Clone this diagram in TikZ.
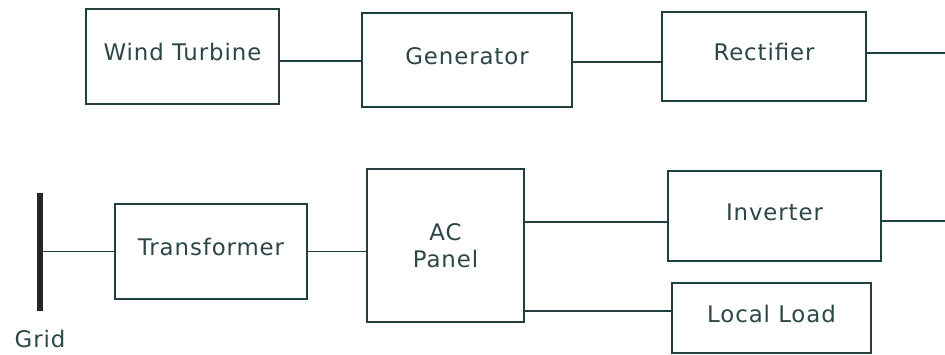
\documentclass[tikz,border=0pt]{standalone}
\usepackage{fontspec}
\setmainfont[LetterSpace=4]{DejaVu Sans}
\usetikzlibrary{%
	calc,%
	positioning,%
}
\definecolor{cline}{RGB}{34, 64, 64}
\definecolor{ctext}{RGB}{45, 70, 70}
\tikzset{
	nodes={align=center},%
	blk/.style={%
			draw=cline,%
			rectangle,%
			line width=1pt,%
			text=ctext,%
			fill=white},%
	lift/.style={%
			text depth=0.26cm},%
	wire/.style={%
			draw=cline,%
			line width=1pt},%
	busbar/.style={%
			fill=black!85,%
			rectangle,%
			inner sep=0,%
			minimum width=0.18cm,%
			minimum height=3.54cm},%
}

\begin{document}
\begin{tikzpicture}[x=0.03cm, y=-0.03cm, nodes={font={\fontsize{19.5}{23}\selectfont}}]%
	\useasboundingbox (0,0) rectangle (945,354);

	% top row
	\node[blk, lift, minimum width=5.79cm, minimum height=2.85cm] (wt) at (182.5,56.5) {Wind Turbine};
	\node[blk, lift, minimum width=6.3cm, minimum height=2.82cm] (gen) at (467,60) {Generator};
	\node[blk, lift, minimum width=6.12cm, minimum height=2.67cm] (rect) at (764,56.5) {Rectifier};

	% bottom row
	\node[busbar] (bus) at (40,252) {};
	\node[text=ctext, below=0.45cm of bus] (gridlbl) {Grid};
	\node[blk, lift, minimum width=5.76cm, minimum height=2.85cm] (tr) at (211,251.5) {Transformer};
	\node[blk, minimum width=4.71cm, minimum height=4.59cm] (acp) at (445.5,245.5) {AC\\Panel};
	\node[blk, lift, minimum width=6.39cm, minimum height=2.7cm] (inv) at (774.5,216) {Inverter};
	\node[blk, lift, minimum width=5.97cm, minimum height=2.1cm] (ll) at (771.5,318) {Local Load};

	\coordinate (rectout) at (945,53);
	\coordinate (invout) at (945,221);

	\draw[wire] ($(wt.east)+(0,4.5)$) -- ($(wt.east -| gen.west)+(0,4.5)$);
	\draw[wire] ($(gen.east)+(0,2)$) -- ($(gen.east -| rect.west)+(0,2)$);
	\draw[wire] (rectout -| rect.east) -- (rectout);
	\draw[wire] (bus.east |- tr.west) -- (tr.west);
	\draw[wire] (tr.east) -- (tr.east -| acp.west);
	\draw[wire] ($(acp.east |- inv.west)+(0,6)$) -- ($(inv.west)+(0,6)$);
	\draw[wire] (invout -| inv.east) -- (invout);
	\draw[wire] ($(acp.east |- ll.west)+(0,-7)$) -- ($(ll.west)+(0,-7)$);
\end{tikzpicture}
\end{document}
